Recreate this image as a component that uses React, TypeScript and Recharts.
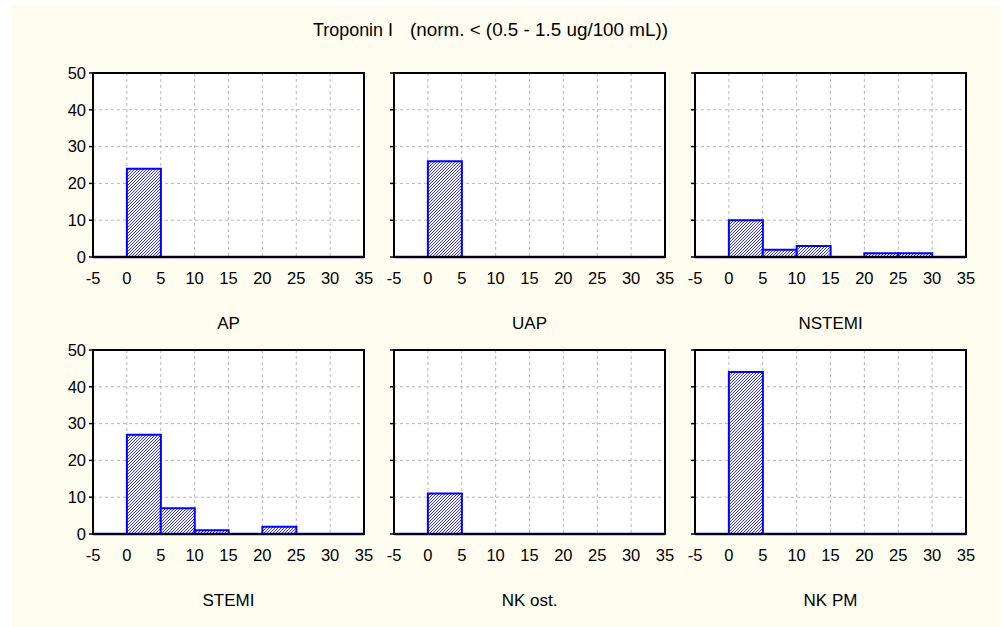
import React from 'react';
import { BarChart, Bar, XAxis, YAxis, CartesianGrid, ReferenceArea, ReferenceLine } from 'recharts';

const binCenters = [-2.5, 2.5, 7.5, 12.5, 17.5, 22.5, 27.5, 32.5];
const xTicks = [-5, 0, 5, 10, 15, 20, 25, 30, 35];
const yTicks = [0, 10, 20, 30, 40, 50];

const apValues = [0, 24, 0, 0, 0, 0, 0, 0];
const uapValues = [0, 26, 0, 0, 0, 0, 0, 0];
const nstemiValues = [0, 10, 2, 3, 0, 1, 1, 0];
const stemiValues = [0, 27, 7, 1, 0, 2, 0, 0];
const nkOstValues = [0, 11, 0, 0, 0, 0, 0, 0];
const nkPmValues = [0, 44, 0, 0, 0, 0, 0, 0];

const panelNames = ['AP', 'UAP', 'NSTEMI', 'STEMI', 'NK ost.', 'NK PM'];
const panelValues = [apValues, uapValues, nstemiValues, stemiValues, nkOstValues, nkPmValues];

const titleMain = 'Troponin I';
const titleNorm = '(norm. < (0.5 - 1.5 ug/100 mL))';

const FONT = '"Liberation Sans", Arial, sans-serif';
const colX = [93, 394, 695];
const rowY = [73, 350];
const PW = 271;
const PH = 184;
const YW = 50;
const MT = 10;

function Panel({ values, col, row }: { values: number[]; col: number; row: number }) {
  const data = binCenters.map((x, i) => ({ x, v: values[i] }));
  const showY = col === 0;
  return (
    <div style={{ position: 'absolute', left: colX[col] - YW, top: rowY[row] - MT }}>
      <BarChart
        width={YW + PW + 12}
        height={MT + PH + 40}
        data={data}
        margin={{ top: MT, right: 12, left: 0, bottom: 0 }}
        barCategoryGap={0}
        barGap={0}
      >
        <CartesianGrid stroke="#b8b8b8" strokeDasharray="3 3" fill="#ffffff" />
        <XAxis
          dataKey="x"
          type="number"
          domain={[-5, 35]}
          ticks={xTicks}
          interval={0}
          allowDataOverflow
          tickLine={false}
          tickSize={12}
          tickMargin={3}
          height={40}
          axisLine={{ stroke: '#000', strokeWidth: 2 }}
          tick={{ fill: '#000', fontSize: 16.5, fontFamily: FONT }}
        />
        <XAxis
          xAxisId="top"
          dataKey="x"
          type="number"
          orientation="top"
          domain={[-5, 35]}
          ticks={xTicks}
          interval={0}
          height={0}
          mirror
          tickSize={4}
          axisLine={false}
          tickLine={{ stroke: '#000', strokeWidth: 1.5 }}
          tickFormatter={() => ''}
        />
        <YAxis
          type="number"
          domain={[0, 50]}
          ticks={yTicks}
          interval={0}
          width={YW}
          tickSize={4}
          tickMargin={3}
          axisLine={{ stroke: '#000', strokeWidth: 2 }}
          tickLine={{ stroke: '#000', strokeWidth: 1.5 }}
          tick={{ fill: '#000', fontSize: 16.5, fontFamily: FONT }}
          tickFormatter={(v: number) => (showY ? String(v) : '')}
        />
        <Bar
          dataKey="v"
          fill="url(#hatchBlue)"
          stroke="#0000ff"
          strokeWidth={2}
          isAnimationActive={false}
        />
        <ReferenceLine y={0} stroke="#0000ff" strokeWidth={2.5} />
        <ReferenceArea
          x1={-5}
          x2={35}
          y1={0}
          y2={50}
          fill="none"
          fillOpacity={0}
          stroke="#000"
          strokeWidth={2}
          ifOverflow="visible"
        />
      </BarChart>
    </div>
  );
}

export default function App() {
  return (
    <div style={{ position: 'absolute', left: 0, top: 0, width: 1003, height: 627, background: '#ffffff', overflow: 'hidden' }}>
      <svg width={1003} height={627} style={{ position: 'absolute', left: 0, top: 0 }}>
        <defs>
          <pattern id="hatchBlue" patternUnits="userSpaceOnUse" width={3} height={3}>
            <rect x={0} y={0} width={3} height={3} fill="#ffffff" />
            <path d="M-1,1 L1,-1 M0,3 L3,0 M2,4 L4,2" stroke="#1a1aff" strokeWidth={0.9} />
          </pattern>
        </defs>
        <rect x={12} y={6} width={989} height={621} fill="#fffdef" />
        <text x={313} y={36} fontFamily={FONT} fontSize={18} fill="#000" textLength={80} lengthAdjust="spacingAndGlyphs">{titleMain}</text>
        <text x={410} y={36} fontFamily={FONT} fontSize={18} fill="#000" textLength={258} lengthAdjust="spacingAndGlyphs">{titleNorm}</text>
        {panelNames.map((name, i) => {
          const col = i % 3;
          const row = Math.floor(i / 3);
          return (
            <text
              key={name}
              x={colX[col] + PW / 2}
              y={rowY[row] + PH + 72}
              textAnchor="middle"
              fontFamily={FONT}
              fontSize={17}
              fill="#000"
            >
              {name}
            </text>
          );
        })}
      </svg>
      {panelValues.map((vals, i) => (
        <Panel key={panelNames[i]} values={vals} col={i % 3} row={Math.floor(i / 3)} />
      ))}
    </div>
  );
}
